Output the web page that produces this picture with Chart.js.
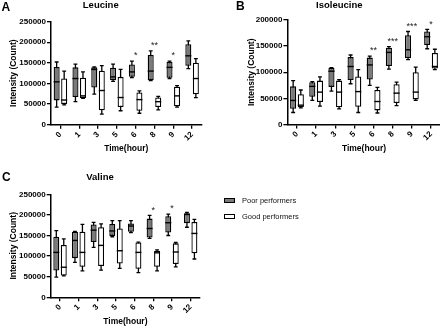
<!DOCTYPE html>
<html><head><meta charset="utf-8">
<script src="https://cdn.jsdelivr.net/npm/chart.js@4.4.1/dist/chart.umd.min.js"></script>
<style>
html,body{margin:0;padding:0;background:#fff;width:440px;height:327px;overflow:hidden;}
body{position:relative;font-family:"Liberation Sans",Arial,sans-serif;}
canvas{position:absolute;}
.pl{position:absolute;font-weight:bold;font-size:12px;line-height:12px;color:#000;}
.sw{position:absolute;left:224px;width:11px;height:5px;box-sizing:border-box;border:1.3px solid #000;}
.lt{position:absolute;left:242px;font-size:7.5px;line-height:9px;color:#111;white-space:nowrap;}
</style></head>
<body>
<canvas id="cA" width="252" height="156" style="left:0;top:0"></canvas>
<canvas id="cB" width="246" height="156" style="left:238px;top:0"></canvas>
<canvas id="cC" width="251" height="157" style="left:0;top:170px"></canvas>
<div class="pl" style="left:1.5px;top:0.5px">A</div>
<div class="pl" style="left:236px;top:0.3px">B</div>
<div class="pl" style="left:2px;top:170.5px">C</div>
<div class="sw" style="top:197.7px;background:#7a7a7a"></div>
<div class="lt" style="top:195.8px">Poor performers</div>
<div class="sw" style="top:213.5px;background:#fff"></div>
<div class="lt" style="top:211.8px">Good performers</div>
<script>
// ---- data: each entry is [min, q1, median, q3, max] ----
const hours = ['0', '1', '3', '5', '6', '8', '9', '12'];
const seriesNames = ['Poor performers', 'Good performers'];

const leucinePoor = [
  [43000, 59000, 104000, 140000, 152000],
  [56000, 67000, 112000, 139000, 147000],
  [74000, 90000, 134000, 139000, 140000],
  [105000, 108000, 116000, 138000, 147000],
  [114000, 116000, 128000, 146000, 154000],
  [107000, 108000, 130000, 169000, 179000],
  [112000, 114000, 139000, 152000, 154000],
  [136000, 143000, 167000, 195000, 203000]
];
const leucineGood = [
  [48000, 50000, 60000, 112000, 130000],
  [64000, 65000, 70000, 114000, 128000],
  [26000, 35000, 83000, 131000, 143000],
  [34000, 43000, 66000, 116000, 134000],
  [28000, 34000, 61000, 78000, 82000],
  [36000, 43000, 56000, 66000, 69000],
  [43000, 45000, 70000, 92000, 95000],
  [66000, 74000, 112000, 150000, 160000]
];
const leucineStars = ['', '', '', '', '*', '**', '*', ''];

const isoleucinePoor = [
  [23000, 30000, 46000, 73000, 84000],
  [46000, 53000, 73000, 81000, 82000],
  [64000, 72000, 102000, 108000, 109000],
  [78000, 85000, 111000, 129000, 133000],
  [75000, 86000, 114000, 128000, 131000],
  [106000, 112000, 138000, 147000, 149000],
  [124000, 127000, 143000, 171000, 178000],
  [145000, 152000, 168000, 178000, 182000]
];
const isoleucineGood = [
  [32000, 33000, 37000, 58000, 66000],
  [35000, 43000, 62000, 84000, 91000],
  [30000, 33000, 62000, 84000, 86000],
  [23000, 34000, 63000, 92000, 105000],
  [22000, 27000, 44000, 66000, 71000],
  [36000, 41000, 60000, 77000, 81000],
  [46000, 48000, 62000, 100000, 110000],
  [105000, 107000, 111000, 137000, 144000]
];
const isoleucineStars = ['', '', '', '', '**', '***', '***', '*'];

const valinePoor = [
  [49000, 65000, 109000, 147000, 162000],
  [85000, 95000, 138000, 159000, 160000],
  [121000, 134000, 163000, 177000, 182000],
  [147000, 149000, 161000, 178000, 186000],
  [157000, 159000, 173000, 179000, 186000],
  [143000, 145000, 167000, 191000, 199000],
  [150000, 157000, 181000, 197000, 202000],
  [170000, 180000, 201000, 204000, 206000]
];
const valineGood = [
  [52000, 53000, 73000, 127000, 142000],
  [64000, 74000, 109000, 159000, 177000],
  [66000, 76000, 126000, 170000, 178000],
  [70000, 82000, 113000, 167000, 186000],
  [60000, 69000, 109000, 133000, 134000],
  [64000, 74000, 108000, 113000, 115000],
  [74000, 81000, 110000, 131000, 133000],
  [93000, 107000, 155000, 183000, 189000]
];
const valineStars = ['', '', '', '', '', '*', '*', ''];

const leucineYMax = 250000, isoleucineYMax = 200000, valineYMax = 250000;
const yStep = 50000;

// ---- drawing ----
Chart.defaults.font.family = '"Liberation Sans", Arial, sans-serif';
Chart.defaults.color = '#000';

const boxPlugin = {
  id: 'boxes',
  beforeDatasetsDraw(chart) {
    const ctx = chart.ctx, ys = chart.scales.y;
    chart.data.datasets.forEach((ds, di) => {
      const meta = chart.getDatasetMeta(di);
      meta.data.forEach((bar, i) => {
        const s = ds.stats[i];
        const yMin = ys.getPixelForValue(s[0]), yMax = ys.getPixelForValue(s[4]);
        const cw = bar.width * 0.32;
        ctx.save();
        ctx.strokeStyle = '#000'; ctx.lineWidth = 1.3;
        ctx.beginPath();
        ctx.moveTo(bar.x, yMin); ctx.lineTo(bar.x, yMax);
        ctx.moveTo(bar.x - cw, yMin); ctx.lineTo(bar.x + cw, yMin);
        ctx.moveTo(bar.x - cw, yMax); ctx.lineTo(bar.x + cw, yMax);
        ctx.stroke();
        ctx.restore();
      });
    });
  },
  afterDatasetsDraw(chart, args, opts) {
    const ctx = chart.ctx, ys = chart.scales.y, xs = chart.scales.x;
    chart.data.datasets.forEach((ds, di) => {
      const meta = chart.getDatasetMeta(di);
      meta.data.forEach((bar, i) => {
        const ym = ys.getPixelForValue(ds.stats[i][2]);
        ctx.save();
        ctx.strokeStyle = '#000'; ctx.lineWidth = 1.4;
        ctx.beginPath();
        ctx.moveTo(bar.x - bar.width / 2, ym); ctx.lineTo(bar.x + bar.width / 2, ym);
        ctx.stroke();
        ctx.restore();
      });
    });
    const stars = opts.stars || [];
    stars.forEach((st, i) => {
      if (!st) return;
      const top = Math.max(...chart.data.datasets.map(ds => ds.stats[i][4]));
      const y = ys.getPixelForValue(top) - 2.8;
      ctx.save();
      ctx.fillStyle = '#222';
      ctx.font = '9px "Liberation Sans", Arial, sans-serif';
      ctx.textAlign = 'center'; ctx.textBaseline = 'alphabetic';
      ctx.fillText(st, xs.getPixelForValue(i), y);
      ctx.restore();
    });
  }
};

function makeChart(id, cfg) {
  const mk = (stats, name, color) => ({
    label: name,
    data: stats.map(s => [s[1], s[3]]),
    stats: stats,
    backgroundColor: color,
    borderColor: '#000',
    borderWidth: 1.3,
    borderSkipped: false,
    barPercentage: 0.8,
    categoryPercentage: 0.8
  });
  return new Chart(document.getElementById(id), {
    type: 'bar',
    data: {
      labels: hours,
      datasets: [mk(cfg.poor, seriesNames[0], '#7a7a7a'), mk(cfg.good, seriesNames[1], '#ffffff')]
    },
    options: {
      responsive: false,
      animation: false,
      devicePixelRatio: 1,
      layout: { padding: { left: 0, right: cfg.padRight, top: 0, bottom: 0 } },
      plugins: {
        legend: { display: false },
        tooltip: { enabled: false },
        title: {
          display: true, text: cfg.title, color: '#000',
          font: { size: 9.5, weight: 'bold', lineHeight: 1.2 },
          padding: { top: cfg.titleTop, bottom: cfg.titleBottom }
        },
        boxes: { stars: cfg.stars }
      },
      scales: {
        x: {
          offset: true,
          ticks: { color: '#000', font: { size: 8, weight: 'bold' }, maxRotation: 45, minRotation: 45, padding: 1, autoSkip: false },
          grid: { display: true, offset: false, drawOnChartArea: false, drawTicks: true, tickLength: 4, color: '#000', lineWidth: 1.3 },
          border: { display: true, color: '#000', width: 1.5 },
          title: { display: true, text: 'Time(hour)', color: '#000', font: { size: 8.5, weight: 'bold', lineHeight: 1.2 }, padding: { top: 0, bottom: cfg.xTitleBottom } },
          afterFit(s) { s.height = cfg.xHeight; }
        },
        y: {
          min: 0, max: cfg.yMax,
          ticks: { stepSize: yStep, color: '#000', font: { size: 8, weight: 'bold' }, padding: 1, callback: v => String(v) },
          grid: { display: true, drawOnChartArea: false, drawTicks: true, tickLength: 4, color: '#000', lineWidth: 1.3 },
          border: { display: true, color: '#000', width: 1.5 },
          title: { display: true, text: 'Intensity (Count)', color: '#000', font: { size: 8.5, weight: 'bold', lineHeight: 1.2 }, padding: { top: cfg.yTitlePad, bottom: 0 } },
          afterFit(s) { s.width = cfg.yWidth; }
        }
      }
    },
    plugins: [boxPlugin]
  });
}

makeChart('cA', { poor: leucinePoor, good: leucineGood, stars: leucineStars, title: 'Leucine', yMax: leucineYMax,
  padRight: 50.5, titleTop: 0, titleBottom: 10.1, xHeight: 31.2, xTitleBottom: 1.9, yWidth: 51, yTitlePad: 8.2 });
makeChart('cB', { poor: isoleucinePoor, good: isoleucineGood, stars: isoleucineStars, title: 'Isoleucine', yMax: isoleucineYMax,
  padRight: 43.4, titleTop: 0, titleBottom: 8.6, xHeight: 31.5, xTitleBottom: 1.9, yWidth: 49.4, yTitlePad: 8.9 });
makeChart('cC', { poor: valinePoor, good: valineGood, stars: valineStars, title: 'Valine', yMax: valineYMax,
  padRight: 51, titleTop: 1.3, titleBottom: 11.6, xHeight: 29.7, xTitleBottom: 0, yWidth: 50.7, yTitlePad: 8.2 });
</script>
</body></html>
